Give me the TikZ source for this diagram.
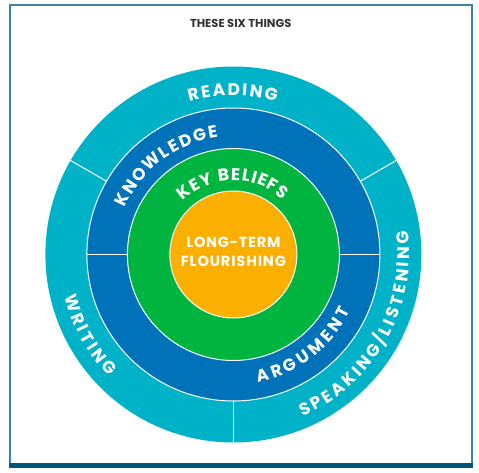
\documentclass[tikz,border=0pt]{standalone}
\usepackage{fontspec}
\setmainfont{Poppins}
\definecolor{ringcyan}{RGB}{0,178,200}
\definecolor{ringblue}{RGB}{0,114,185}
\definecolor{ringgreen}{RGB}{0,180,64}
\definecolor{ringorange}{RGB}{251,175,0}
\definecolor{titlegray}{RGB}{51,51,51}
\definecolor{framecol}{RGB}{60,130,168}
\definecolor{framedark}{RGB}{0,86,125}
\newlength\atChw
\newcommand\atLabelFont{\bfseries\fontsize{17}{20}\selectfont}
\newcommand\atCenterFont{\bfseries\fontsize{14.6}{17}\selectfont}
\newcommand\atTitleFont{\bfseries\fontsize{11.5}{13}\selectfont}
% measure letter widths (outside the picture): #1 name, #2 font, #3 letters
\newcommand\atMeasure[3]{%
  \gdef\atSum{0}%
  \foreach \atC [count=\k] in {#3}{%
    \settowidth\atChw{#2\atC}%
    \expandafter\xdef\csname atW#1@\k\endcsname{\the\atChw}%
    \pgfmathsetmacro\atTmp{\atSum+\the\atChw}\xdef\atSum{\atTmp}%
    \expandafter\xdef\csname atN#1\endcsname{\k}}%
  \expandafter\xdef\csname atS#1\endcsname{\atSum}%
}
% letters along an arc: #1 name, #2 baseline radius, #3 first-letter angle,
% #4 last-letter angle, #5 sign (+1 top / -1 bottom), #6 font, #7 letters
\newcommand\arctext[7]{%
  \edef\atN{\csname atN#1\endcsname}%
  \edef\atSum{\csname atS#1\endcsname}%
  \edef\atWf{\csname atW#1@1\endcsname}%
  \edef\atWl{\csname atW#1@\atN\endcsname}%
  \pgfmathsetmacro\atSpan{abs((#4)-(#3))*pi/180*#2}%
  \pgfmathsetmacro\atTrk{(\atSpan-(\atSum-\atWf/2-\atWl/2))/(\atN-1)}%
  \gdef\atAcc{0}%
  \foreach \atC [count=\k] in {#7}{%
    \edef\atCw{\csname atW#1@\k\endcsname}%
    \pgfmathsetmacro\atPos{\atAcc+\atCw/2-\atWf/2}%
    \pgfmathsetmacro\atAng{(#3)-(#5)*\atPos/#2*180/pi}%
    \pgfmathsetmacro\atRot{\atAng-(#5)*90}%
    \node[letter, font=#6, rotate=\atRot] (#1-\k) at (\atAng:#2) {\atC};
    \pgfmathsetmacro\atTmp{\atAcc+\atCw+\atTrk}\xdef\atAcc{\atTmp}%
  }%
}
% tracked straight line: #1 name, #2 x centre, #3 y baseline, #4 width, #5 font, #6 letters
\newcommand\linetext[6]{%
  \edef\atN{\csname atN#1\endcsname}%
  \edef\atSum{\csname atS#1\endcsname}%
  \pgfmathsetmacro\atTrk{(#4-\atSum)/(\atN-1)}%
  \gdef\atAcc{0}%
  \foreach \atC [count=\k] in {#6}{%
    \edef\atCw{\csname atW#1@\k\endcsname}%
    \node[letter, anchor=base west, font=#5] (#1-\k) at ({#2-#4/2+\atAcc},#3) {\atC};
    \pgfmathsetmacro\atTmp{\atAcc+\atCw+\atTrk}\xdef\atAcc{\atTmp}}%
}
\tikzset{
  letter/.style={anchor=base, inner sep=0pt, outer sep=0pt, text=white},
  ringline/.style={draw=white, line width=1pt},
  divider/.style={draw=white, line width=1pt},
  titletext/.style={inner sep=0pt, text=titlegray, font=\atTitleFont},
}
\begin{document}
\atMeasure{reading}{\atLabelFont}{R,E,A,D,I,N,G}%
\atMeasure{knowledge}{\atLabelFont}{K,N,O,W,L,E,D,G,E}%
\atMeasure{keybeliefs}{\atLabelFont}{K,E,Y,~,B,E,L,I,E,F,S}%
\atMeasure{argument}{\atLabelFont}{A,R,G,U,M,E,N,T}%
\atMeasure{speaking}{\atLabelFont}{S,P,E,A,K,I,N,G,\slash,L,I,S,T,E,N,I,N,G}%
\atMeasure{writing}{\atLabelFont}{W,R,I,T,I,N,G}%
\atMeasure{longterm}{\atCenterFont}{L,O,N,G,-,T,E,R,M}%
\atMeasure{flourishing}{\atCenterFont}{F,L,O,U,R,I,S,H,I,N,G}%
\begin{tikzpicture}[x=1pt,y=1pt]
  \useasboundingbox (0,0) rectangle (479,472);
  % frame
  \draw[framecol, line width=1.6pt] (10.2,8) -- (10.2,466.8) -- (471.7,466.8) -- (471.7,8);
  \draw[framedark, line width=5pt] (9.4,6.8) -- (472.6,6.8);
  % title
  \node[titletext] (title) at (240.7,448.7) {THESE SIX THINGS};
  \coordinate (C) at (233.4,217.5);
  \begin{scope}[shift={(C)}]
    \fill[ringcyan] (0,0) circle (188);
    \draw[ringline, fill=ringblue] (0,0) circle (146.5);
    \draw[ringline, fill=ringgreen] (0,0) circle (106);
    \draw[ringline, fill=ringorange] (0,0) circle (63.5);
    % dividers
    \foreach \a in {30,150,270} \draw[divider] (\a:146.5) -- (\a:189);
    \foreach \a in {0,180} \draw[divider] (\a:106) -- (\a:146.5);
    % labels
    \arctext{reading}{159}{104.1}{76.7}{1}{\atLabelFont}{R,E,A,D,I,N,G}
    \arctext{knowledge}{118}{153.8}{99.6}{1}{\atLabelFont}{K,N,O,W,L,E,D,G,E}
    \arctext{keybeliefs}{74}{128.2}{51.9}{1}{\atLabelFont}{K,E,Y,~,B,E,L,I,E,F,S}
    \arctext{argument}{130}{-76.5}{-28}{-1}{\atLabelFont}{A,R,G,U,M,E,N,T}
    \arctext{speaking}{176}{-65.2}{5.7}{-1}{\atLabelFont}{S,P,E,A,K,I,N,G,\slash,L,I,S,T,E,N,I,N,G}
    \arctext{writing}{174}{196.8}{222.2}{-1}{\atLabelFont}{W,R,I,T,I,N,G}
    \linetext{longterm}{0}{7}{94}{\atCenterFont}{L,O,N,G,-,T,E,R,M}
    \linetext{flourishing}{0}{-11.5}{105}{\atCenterFont}{F,L,O,U,R,I,S,H,I,N,G}
  \end{scope}
\end{tikzpicture}
\end{document}
